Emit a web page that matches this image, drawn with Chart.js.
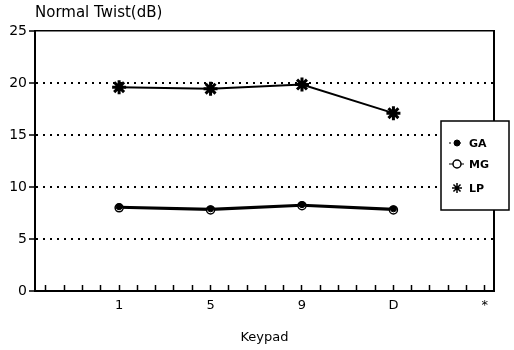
<!DOCTYPE html>
<html>
<head>
<meta charset="utf-8">
<script src="https://cdn.jsdelivr.net/npm/chart.js@4/dist/chart.umd.min.js"></script>
<style>
html,body{margin:0;padding:0;background:#fff;}
#wrap{position:relative;width:514px;height:350px;}
</style>
</head>
<body>
<div id="wrap"><canvas id="c" width="514" height="350"></canvas></div>
<script>
const categories = ["1", "5", "9", "D", "*"];
const seriesNames = ["GA", "MG", "LP"];
const gaValues = [8.1, 7.9, 8.3, 7.9];
const mgValues = [8.0, 7.8, 8.2, 7.8];
const lpValues = [19.6, 19.45, 19.85, 17.1];
const yTicks = [0, 5, 10, 15, 20, 25];
const yTitle = "Normal Twist(dB)";
const xTitle = "Keypad";

const FONT = "'DejaVu Sans', 'Liberation Sans', Arial, sans-serif";
const toPts = vals => vals.map((v, i) => ({x: i + 1, y: v}));

const legendBox = {
  id: 'legendBox',
  afterDraw(chart) {
    const ctx = chart.ctx;
    const bx = 441, by = 121, bw = 68, bh = 89;
    ctx.save();
    ctx.fillStyle = '#fff';
    ctx.strokeStyle = '#000';
    ctx.lineWidth = 1.5;
    ctx.fillRect(bx, by, bw, bh);
    ctx.strokeRect(bx, by, bw, bh);
    const rows = [143, 164, 188];
    chart.data.datasets.forEach((ds, i) => {
      const y = rows[i];
      const isStar = ds.pointStyle === 'star';
      ctx.strokeStyle = '#000';
      ctx.lineWidth = 1;
      ctx.setLineDash(i === 0 ? [2, 3] : []);
      if (i < 2) {
        ctx.beginPath(); ctx.moveTo(449, y); ctx.lineTo(464, y); ctx.stroke();
      }
      ctx.setLineDash([]);
      ctx.fillStyle = ds.pointBackgroundColor;
      ctx.strokeStyle = '#000';
      ctx.lineWidth = isStar ? 1.5 : ds.pointBorderWidth;
      Chart.helpers.drawPoint(ctx, {
        pointStyle: ds.pointStyle, radius: isStar ? 5 : ds.pointRadius, rotation: 0,
        borderWidth: isStar ? 1.5 : ds.pointBorderWidth
      }, 457, y);
      ctx.fillStyle = '#000';
      ctx.font = "bold 11px " + FONT;
      ctx.textBaseline = 'middle';
      ctx.textAlign = 'left';
      ctx.fillText(ds.label, 469, y + 1);
    });
    ctx.restore();
  }
};

new Chart(document.getElementById('c'), {
  type: 'line',
  data: {
    datasets: [
      {label: seriesNames[0], data: toPts(gaValues), borderColor: '#000', borderWidth: 2,
       pointStyle: 'circle', pointRadius: 3, pointBorderWidth: 1, pointBackgroundColor: '#000', pointBorderColor: '#000'},
      {label: seriesNames[1], data: toPts(mgValues), borderColor: '#000', borderWidth: 2,
       pointStyle: 'circle', pointRadius: 4, pointBorderWidth: 1.5, pointBackgroundColor: '#fff', pointBorderColor: '#000'},
      {label: seriesNames[2], data: toPts(lpValues), borderColor: '#000', borderWidth: 2,
       pointStyle: 'star', pointRadius: 7, pointBorderWidth: 3, pointBackgroundColor: '#000', pointBorderColor: '#000'}
    ]
  },
  options: {
    responsive: false,
    animation: false,
    layout: {padding: 0},
    plugins: {legend: {display: false}, tooltip: {enabled: false}},
    scales: {
      x: {
        type: 'linear', position: 'bottom', min: 0.08, max: 5.1,
        afterBuildTicks(scale) {
          const t = [];
          for (let k = 1; k <= 25; k++) t.push({value: Math.round(k * 2) / 10});
          scale.ticks = t;
        },
        afterFit(scale) { scale.height = 59; },
        ticks: {
          autoSkip: false, maxRotation: 0, padding: 13, color: '#000',
          font: {family: FONT, size: 13},
          callback(v) {
            const r = Math.round(v);
            if (Math.abs(v - r) < 1e-6 && r >= 1 && r <= categories.length) return categories[r - 1];
            return '';
          }
        },
        grid: {drawOnChartArea: false, drawTicks: true, tickLength: -6, tickColor: '#000', tickWidth: 1.5},
        border: {display: true, color: '#000', width: 2},
        title: {display: true, text: xTitle, color: '#000', font: {family: FONT, size: 13}, padding: {top: 0, bottom: 5}}
      },
      x2: {
        type: 'linear', position: 'top', min: 0, max: 1,
        afterFit(scale) { scale.height = 31; },
        ticks: {display: false},
        grid: {display: false},
        border: {display: true, color: '#000', width: 1.5},
        title: {display: true, text: yTitle, align: 'start', color: '#000', font: {family: FONT, size: 15}, padding: {top: 4, bottom: 0}}
      },
      y: {
        type: 'linear', position: 'left', min: 0, max: 25,
        afterBuildTicks(scale) { scale.ticks = yTicks.map(v => ({value: v})); },
        afterFit(scale) { scale.width = 35; },
        ticks: {color: '#000', padding: 2, font: {family: FONT, size: 14}},
        grid: {
          drawOnChartArea: true, drawTicks: true, tickLength: 6, tickColor: '#000', tickWidth: 1.5,
          lineWidth: 2,
          color: c => (c.tick && (c.tick.value === 0 || c.tick.value === 25)) ? 'rgba(0,0,0,0)' : '#000'
        },
        border: {display: true, color: '#000', width: 2, dash: [2, 5]}
      },
      y2: {
        type: 'linear', position: 'right', min: 0, max: 25,
        afterFit(scale) { scale.width = 20; },
        ticks: {display: false},
        grid: {display: false},
        border: {display: true, color: '#000', width: 2}
      }
    }
  },
  plugins: [legendBox]
});
</script>
</body>
</html>
